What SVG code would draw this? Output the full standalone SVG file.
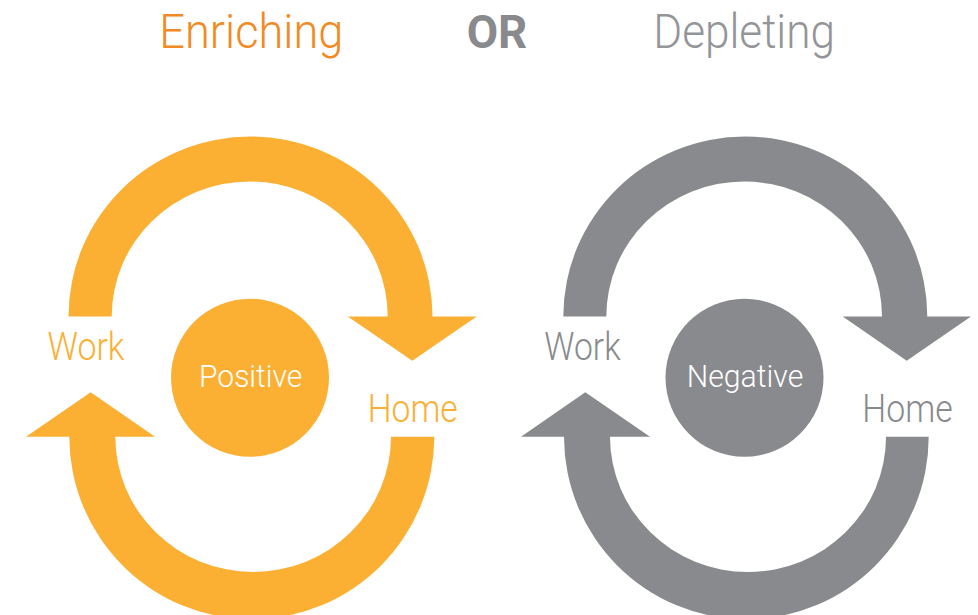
<svg xmlns="http://www.w3.org/2000/svg" width="978" height="615" viewBox="0 0 978 615">
  <style>
    .t { font-family: Roboto, "Liberation Sans", "DejaVu Sans", sans-serif; font-weight: 300; }
    .o { fill: #FBB034; }
    .g { fill: #898A8D; }
    .lbl { font-size: 38px; }
    .cl { font-size: 31px; fill: #FFFFFF; }
    .ttl { font-size: 49px; }
  </style>
  <rect width="978" height="615" fill="#FFFFFF"/>

  <g id="titles">
    <text class="t ttl" x="159.3" y="48.3" fill="#F18A22" textLength="184" lengthAdjust="spacingAndGlyphs">Enriching</text>
    <text x="466.7" y="48.3" font-family="Roboto, 'Liberation Sans', sans-serif" font-weight="700" font-size="46" fill="#898A8D" textLength="60.6" lengthAdjust="spacingAndGlyphs">OR</text>
    <text class="t ttl" x="653.3" y="48.3" fill="#939598" textLength="181.7" lengthAdjust="spacingAndGlyphs">Depleting</text>
  </g>

  <g id="connectors">
    <path class="o" d="M 68.5 316.5 A 182 180 0 0 1 432.5 316.5 L 476.7 316.5 L 412.3 360.7 L 347.7 316.5 L 387.7 316.5 A 138 135 0 0 0 111.7 316.5 Z"/>
    <path class="o" d="M 434.3 436.7 A 182.5 182.5 0 0 1 69.3 436.7 L 26 436.7 L 90.7 392.3 L 155 436.7 L 115.3 436.7 A 137.85 135.3 0 0 0 391 436.7 Z"/>
    <path class="g" d="M 563.3 316.5 A 182 180 0 0 1 927.3 316.5 L 971 316.5 L 906.7 360.7 L 842.7 316.5 L 882 316.5 A 137.85 135 0 0 0 606.3 316.5 Z"/>
    <path class="g" d="M 928.7 436.7 A 182.35 182.5 0 0 1 564 436.7 L 521 436.7 L 585.3 392.3 L 650 436.7 L 610 436.7 A 138 135.3 0 0 0 886 436.7 Z"/>
  </g>

  <g id="positive">
    <circle class="o" cx="250" cy="377.7" r="79"/>
    <text class="t cl" x="199" y="387.3" textLength="103.3" lengthAdjust="spacingAndGlyphs">Positive</text>
  </g>
  <g id="work-left">
    <text class="t lbl o" x="47.5" y="360" textLength="77" lengthAdjust="spacingAndGlyphs">Work</text>
  </g>
  <g id="home-left">
    <text class="t lbl o" x="367.7" y="421.7" textLength="90" lengthAdjust="spacingAndGlyphs">Home</text>
  </g>

  <g id="negative">
    <circle class="g" cx="744.5" cy="377.7" r="79"/>
    <text class="t cl" x="686.7" y="387.3" textLength="116.6" lengthAdjust="spacingAndGlyphs">Negative</text>
  </g>
  <g id="work-right">
    <text class="t lbl g" x="544.3" y="360" textLength="76.4" lengthAdjust="spacingAndGlyphs">Work</text>
  </g>
  <g id="home-right">
    <text class="t lbl g" x="862.3" y="421.7" textLength="90.4" lengthAdjust="spacingAndGlyphs">Home</text>
  </g>
</svg>
